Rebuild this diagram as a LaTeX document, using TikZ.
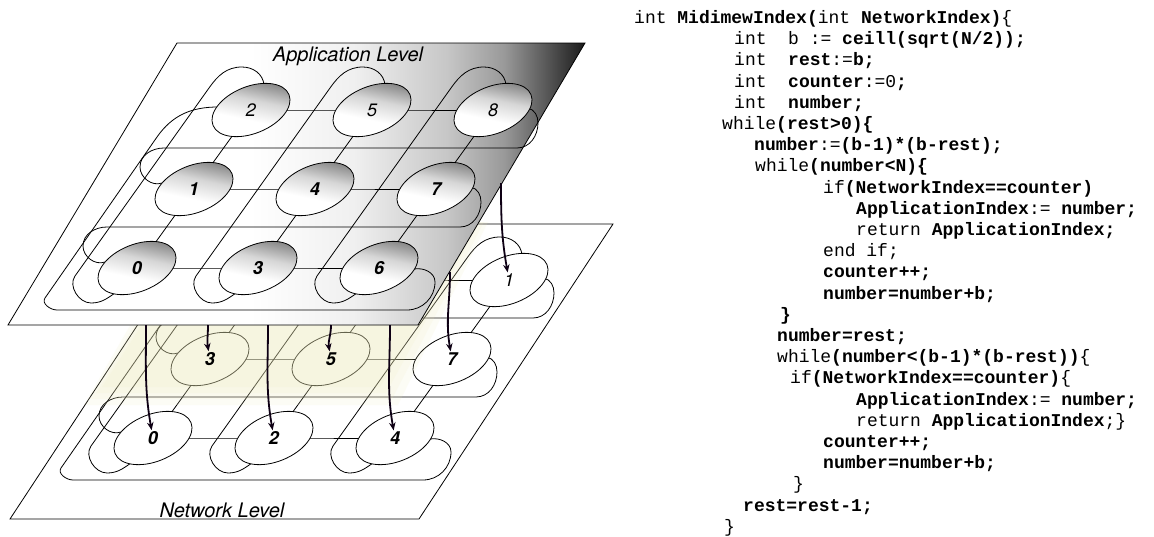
\documentclass[tikz,border=0pt]{standalone}
\usepackage{fontspec}
\setmainfont{TeX Gyre Heros}
\newfontfamily\codefont{Liberation Mono}
\usetikzlibrary{arrows.meta,calc}

\definecolor{arrowink}{RGB}{14,0,20}
\definecolor{glowink}{RGB}{238,234,185}

% grey fall-off of the application plane, left to right
\pgfdeclarehorizontalshading{planeshade}{100bp}{color(0bp)=(white); color(25bp)=(white); color(46bp)=(white); color(55bp)=(black!6); color(63bp)=(black!22); color(68bp)=(black!40); color(72bp)=(black!68); color(75bp)=(black!90); color(100bp)=(black!90)}
% shaded processor discs
\pgfdeclareverticalshading{nodeshade}{100bp}{color(0bp)=(white); color(25bp)=(white); color(42bp)=(white); color(58bp)=(black!16); color(75bp)=(black!50); color(100bp)=(black!50)}

\newcommand{\bcode}[1]{\textbf{#1}}

% 3x3 midimew wiring: #1 prefix, (#2,#3) centre of the bottom-left node
\newcommand{\wiring}[3]{%
  \foreach \c in {0,1,2}{\foreach \r in {0,1,2}{%
    \coordinate (#1-\c-\r) at ({#2+121*\c+57*\r},{#3+79*\r});}}%
  % row and column links
  \foreach \r in {0,1,2}{\draw[wire] (#1-0-\r) -- (#1-1-\r) -- (#1-2-\r);}%
  \foreach \c in {0,1,2}{\draw[wire] (#1-\c-0) -- (#1-\c-1) -- (#1-\c-2);}%
  % column wrap-around: cap over the top node, run down, loop under the bottom node
  \foreach \c in {0,1,2}{%
    \draw[wire] ($(#1-\c-2)+(13,25)$) to[out=95,in=0] ($(#1-\c-2)+(-9,43)$)
      to[out=180,in=55] ($(#1-\c-2)+(-42,22)$) -- ($(#1-\c-0)+(-62,-8)$)
      to[out=235,in=180] ($(#1-\c-0)+(-46,-35)$) to[out=0,in=215] ($(#1-\c-0)+(-22,-25)$);}%
  % row wrap-around into the next row down
  \foreach \u/\v in {2/1,1/0}{%
    \draw[wire] ($(#1-2-\u)+(35,2)$) to[out=-15,in=90] ($(#1-2-\u)+(45,-13)$)
      to[out=-90,in=0] ($(#1-2-\u)+(24,-38)$) -- ($(#1-0-\v)+(-30,41)$)
      to[out=180,in=90] ($(#1-0-\v)+(-54,22)$) to[out=-90,in=200] ($(#1-0-\v)+(-32,6)$);}%
  % last row back to the top row, round the outside
  \draw[wire] ($(#1-2-0)+(35,-1)$) to[out=10,in=90] ($(#1-2-0)+(56,-14)$)
    to[out=-90,in=0] ($(#1-2-0)+(28,-42)$) -- ($(#1-0-0)+(-80,-42)$)
    to[out=180,in=235] ($(#1-0-0)+(-92,-30)$) -- ($(#1-0-2)+(-94,-27)$)
    to[out=55,in=180] ($(#1-0-2)+(-33,3)$);%
}

\begin{document}
\begin{tikzpicture}[x=1pt,y=1pt,
  wire/.style={line width=0.8pt, line join=round, line cap=round},
  plane/.style={line width=0.8pt},
  numb/.style={font=\fontsize{18}{18}\selectfont\bfseries\itshape, inner sep=1pt},
  numl/.style={font=\fontsize{18}{18}\selectfont\itshape, inner sep=1pt},
  level/.style={font=\fontsize{20}{20}\selectfont\itshape, inner sep=0pt},
  map/.style={line width=1.8pt, draw=arrowink, -{Stealth[length=8pt,width=6.5pt]}},
  code/.style={anchor=base west, inner sep=0pt, font=\codefont\fontsize{18}{21.2}\selectfont},
  glowlayer/.style={fill=glowink, fill opacity=0.13, draw=none}
]
\fill[white] (0,0) rectangle (1154,-536);
\useasboundingbox (0,0) rectangle (1154,-536);

% ---------------- network level ----------------
\coordinate (NP1) at (10,-519);
\coordinate (NP2) at (419,-519);
\coordinate (NP3) at (613,-224);
\coordinate (NP4) at (204,-224);
\draw[plane, fill=white] (NP1) -- (NP2) -- (NP3) -- (NP4) -- cycle;
\node[level] (NETL) at (222,-510) {Network Level};

\wiring{n}{153}{-438}
\foreach \c in {0,1,2}{\foreach \r in {0,1,2}{%
  \draw[wire, fill=white, rotate around={22:(n-\c-\r)}] (n-\c-\r) ellipse [x radius=41pt, y radius=23.5pt];}}

% soft glow under the upper plane
\fill[glowlayer] (84,-405) -- (398,-405) -- (488,-222) -- (190,-222) -- cycle;
\fill[glowlayer] (90,-399) -- (392,-399) -- (484,-222) -- (196,-222) -- cycle;
\fill[glowlayer] (96,-393) -- (386,-393) -- (480,-222) -- (202,-222) -- cycle;
\fill[glowlayer] (102,-387) -- (380,-387) -- (476,-222) -- (208,-222) -- cycle;

\node[numb] (N0) at (n-0-0) {0};
\node[numb] (N2) at (n-1-0) {2};
\node[numb] (N4) at (n-2-0) {4};
\node[numb] (N3) at (n-0-1) {3};
\node[numb] (N5) at (n-1-1) {5};
\node[numb] (N7) at (n-2-1) {7};
\node[numl] (N1) at (n-2-2) {1};

% ---------------- application level ----------------
\coordinate (AP1) at (8,-325);
\coordinate (AP2) at (418,-325);
\coordinate (AP3) at (585,-43);
\coordinate (AP4) at (177,-43);
\shadedraw[plane, shading=planeshade] (AP1) -- (AP2) -- (AP3) -- (AP4) -- cycle;
\node[level] (APPL) at (348,-56) {Application Level};

\wiring{a}{137}{-268}
\foreach \c in {0,1,2}{\foreach \r in {0,1,2}{%
  \shadedraw[wire, shading=nodeshade, shading angle=-12, rotate around={22:(a-\c-\r)}] (a-\c-\r) ellipse [x radius=41pt, y radius=23.5pt];}}
\node[numb] (A0) at (a-0-0) {0};
\node[numb] (A3) at (a-1-0) {3};
\node[numb] (A6) at (a-2-0) {6};
\node[numb] (A1) at (a-0-1) {1};
\node[numb] (A4) at (a-1-1) {4};
\node[numb] (A7) at (a-2-1) {7};
\node[numl] (A2) at (a-0-2) {2};
\node[numl] (A5) at (a-1-2) {5};
\node[numl] (A8) at (a-2-2) {8};

% ---------------- mapping arrows ----------------
\coordinate (S0) at (146,-325);
\coordinate (S3) at (208,-325);
\coordinate (S2) at (268,-325);
\coordinate (S5) at (331,-325);
\coordinate (S4) at (390,-325);
\coordinate (S7) at (450,-272);
\coordinate (S1) at (501,-183);
\draw[map] (S0) to[out=-90,in=100] (N0);
\draw[map] (S3) to[out=-90,in=100] (N3);
\draw[map] (S2) to[out=-90,in=100] (N2);
\draw[map] (S5) to[out=-90,in=100] (N5);
\draw[map] (S4) to[out=-90,in=100] (N4);
\draw[map] (S7) to[out=-90,in=100] (N7);
\draw[map] (S1) to[out=-90,in=100] (N1);

% ---------------- index mapping routine ----------------
\node[code] (L1) at (634,-23.5) {int \bcode{MidimewIndex(}int \bcode{NetworkIndex)}\{};
\node[code] (L2) at (734,-44.7) {int~~b := \bcode{ceill(sqrt(N/2));}};
\node[code] (L3) at (734,-65.9) {int~~\bcode{rest}:=\bcode{b;}};
\node[code] (L4) at (734,-87.1) {int~~\bcode{counter}:=0\bcode{;}};
\node[code] (L5) at (734,-108.3) {int~~\bcode{number;}};
\node[code] (L6) at (722,-129.5) {while\bcode{(rest>0)\{}};
\node[code] (L7) at (754,-150.7) {\bcode{number}:=\bcode{(b-1)*(b-rest);}};
\node[code] (L8) at (755,-171.9) {while\bcode{(number<N)\{}};
\node[code] (L9) at (823,-193.1) {if\bcode{(NetworkIndex==counter)}};
\node[code] (L10) at (856,-214.3) {\bcode{ApplicationIndex}:= \bcode{number;}};
\node[code] (L11) at (856,-235.5) {return \bcode{ApplicationIndex;}};
\node[code] (L12) at (823,-256.7) {end if;};
\node[code] (L13) at (823,-277.9) {\bcode{counter++;}};
\node[code] (L14) at (823,-299.1) {\bcode{number=number+b;}};
\node[code] (L15) at (780,-320.3) {\bcode{\}}};
\node[code] (L16) at (777,-341.5) {\bcode{number=rest;}};
\node[code] (L17) at (777,-362.7) {while\bcode{(number<(b-1)*(b-rest))}\{};
\node[code] (L18) at (790,-383.9) {if\bcode{(NetworkIndex==counter)}\{};
\node[code] (L19) at (856,-405.1) {\bcode{ApplicationIndex}:= \bcode{number;}};
\node[code] (L20) at (856,-426.3) {return \bcode{ApplicationIndex};\}};
\node[code] (L21) at (823,-447.5) {\bcode{counter++;}};
\node[code] (L22) at (823,-468.7) {\bcode{number=number+b;}};
\node[code] (L23) at (793,-489.9) {\}};
\node[code] (L24) at (743,-511.1) {\bcode{rest=rest-1;}};
\node[code] (L25) at (724,-532.3) {\}};
\end{tikzpicture}
\end{document}
